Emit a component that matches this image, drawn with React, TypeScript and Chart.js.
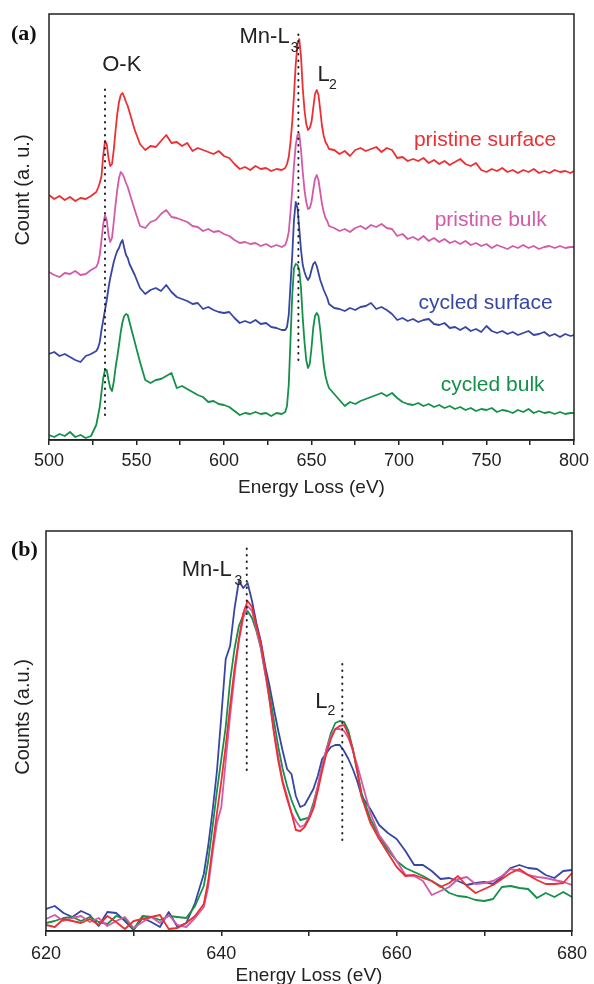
import { useEffect, useRef } from 'react';
import { Chart, registerables } from 'chart.js';

Chart.register(...registerables);

const FONT = '"Liberation Sans", Arial, Helvetica, sans-serif';
const SERIF = '"Liberation Serif", "Times New Roman", serif';

const RED = '#ec2f33';
const MAGENTA = '#d35aa8';
const BLUE = '#3746a2';
const GREEN = '#14904a';

// ---------- Panel (a): EELS spectra 500–800 eV (offset, a.u.) ----------
const ENERGY_A = [
  500, 503, 506, 509, 512, 515, 518, 521, 524, 527,
  528, 529, 530, 531, 532, 533, 534, 535, 536, 537, 538, 539, 540, 541, 542, 543, 544, 545, 546,
  549, 552, 555, 558, 561, 564, 567, 570, 573, 576, 579, 582, 585, 588, 591, 594, 597, 600, 603, 606,
  609, 612, 615, 618, 621, 624, 627, 630, 633,
  635, 636, 637, 638, 639, 640, 641, 642, 643, 644, 645, 646, 647, 648, 649, 650, 651, 652, 653, 654,
  655, 656, 657, 658, 659, 660,
  663, 666, 669, 672, 675, 678, 681, 684, 687, 690, 693, 696, 699, 702, 705, 708, 711, 714, 717, 720,
  723, 726, 729, 732, 735, 738, 741, 744, 747, 750, 753, 756, 759, 762, 765, 768, 771, 774, 777, 780,
  783, 786, 789, 792, 795, 798, 800,
];

const PRISTINE_SURFACE_A = [
  245, 241, 244, 240, 243, 239, 242, 241, 244, 248,
  252, 257, 264, 285, 299, 296, 282, 274, 276, 290, 309, 326, 338, 345, 347, 343, 338, 334, 328,
  310, 296, 290, 294, 293, 299, 305, 297, 298, 294, 297, 289, 292, 290, 288, 286, 289, 284, 282, 276,
  271, 273, 270, 274, 271, 272, 269, 271, 270,
  272, 276, 283, 298, 318, 345, 376, 396, 401, 384, 352, 330, 316, 310, 312, 318, 332, 346, 350, 345,
  330, 314, 304, 298, 295, 291,
  290, 286, 289, 284, 290, 292, 289, 291, 293, 288, 292, 290, 282, 283, 279, 281, 279, 282, 277, 280,
  276, 279, 275, 278, 281, 276, 274, 277, 270, 268, 271, 269, 272, 268, 270, 267, 270, 268, 271, 267,
  269, 267, 270, 268, 269, 267, 269,
];

const PRISTINE_BULK_A = [
  168, 165, 163, 167, 166, 169, 165, 166, 170, 173,
  177, 185, 200, 216, 225, 220, 205, 198, 202, 218, 235, 250, 262, 268, 266, 262, 257, 253, 247,
  230, 214, 212, 218, 220, 226, 230, 223, 222, 220, 218, 214, 213, 209, 211, 208, 209, 206, 204, 200,
  197, 198, 196, 197, 194, 196, 193, 195, 193,
  195, 200, 208, 228, 250, 275, 295, 305, 306, 290, 268, 250, 238, 231, 232, 238, 250, 261, 265, 260,
  248, 236, 228, 222, 219, 214,
  212, 209, 211, 208, 212, 214, 211, 215, 213, 216, 212, 211, 204, 206, 201, 203, 200, 204, 199, 202,
  198, 201, 197, 199, 196, 199, 195, 197, 194, 196, 192, 195, 193, 191, 194, 192, 195, 192, 194, 191,
  193, 194, 192, 194, 192, 193, 193,
];

const CYCLED_SURFACE_A = [
  86, 88, 84, 86, 83, 80, 78, 84, 86, 89,
  92, 98, 110, 120, 130, 140, 152, 162, 170, 178, 184, 189, 192, 197, 200, 192, 185, 182, 176,
  165, 152, 146, 150, 152, 149, 155, 148, 143, 141, 139, 136, 137, 131, 133, 130, 128, 127, 128, 122,
  117, 119, 117, 120, 116, 117, 113, 112, 110,
  110, 113, 125, 155, 185, 220, 238, 232, 212, 190, 175, 168, 163, 160, 163, 170, 176, 178, 174, 167,
  160, 155, 150, 146, 142, 136,
  132, 131, 129, 132, 130, 133, 134, 137, 131, 133, 130, 126, 120, 122, 119, 121, 118, 120, 121, 116,
  115, 117, 112, 113, 110, 113, 109, 111, 108, 114, 109, 107, 109, 106, 108, 105, 107, 109, 105, 106,
  108, 104, 106, 103, 106, 104, 105,
];

const CYCLED_BULK_A = [
  5, 3, 6, 4, 8, 3, 5, 2, 4, 15,
  24, 33, 48, 62, 70, 70, 60, 52, 49, 58, 72, 83, 95, 108, 118, 124, 126, 125, 118,
  98, 78, 60, 57, 60, 61, 64, 67, 52, 54, 51, 48, 45, 43, 38, 39, 36, 35, 33, 29,
  25, 27, 26, 28, 26, 27, 24, 27, 26,
  28, 34, 55, 100, 145, 172, 176, 175, 170, 152, 122, 98, 80, 72, 76, 92, 112, 124, 127, 124,
  110, 92, 75, 64, 57, 52,
  46, 40, 34, 38, 36, 39, 41, 43, 45, 47, 44, 47, 42, 38, 36, 35, 37, 34, 36, 33,
  35, 32, 34, 31, 33, 30, 32, 29, 31, 30, 32, 28, 30, 29, 27, 30, 28, 31, 27, 29,
  27, 28, 26, 28, 26, 27, 27,
];

const X_TICKS_A = [500, 550, 600, 650, 700, 750, 800];

// dotted guide lines: energy, lower and upper value
const GUIDES_A = [
  { energy: 532, from: 25, to: 355 },
  { energy: 642.5, from: 80, to: 407 },
];

const NOTES_A = [
  { text: 'O-K', x: 541.6, y: 375, size: 22, color: '#222', align: 'center' },
  { text: 'Mn-L', x: 637.5, y: 403, size: 22, color: '#222', align: 'right' },
  { text: '3', x: 638.2, y: 392, size: 14, color: '#222', align: 'left' },
  { text: 'L', x: 653.4, y: 365, size: 22, color: '#222', align: 'left' },
  { text: '2', x: 660.0, y: 355, size: 14, color: '#222', align: 'left' },
  { text: 'pristine surface', x: 749.2, y: 300, size: 21, color: RED, align: 'center' },
  { text: 'pristine bulk', x: 752.4, y: 220, size: 21, color: MAGENTA, align: 'center' },
  { text: 'cycled surface', x: 749.5, y: 137, size: 21, color: BLUE, align: 'center' },
  { text: 'cycled bulk', x: 753.5, y: 55, size: 21, color: GREEN, align: 'center' },
];

// ---------- Panel (b): Mn-L edge, 620–680 eV (overlaid, a.u.) ----------
const ENERGY_B = [
  620, 621, 622, 623, 624, 625, 626, 627, 628, 629, 630, 631, 632, 633, 634, 635, 636, 637,
  638, 638.5, 639, 639.5, 640, 640.5, 641, 641.5, 642, 642.5, 643, 643.5, 644, 644.5, 645, 645.5,
  646, 646.5, 647, 647.5, 648, 648.5, 649, 649.5, 650, 650.5, 651, 651.5, 652, 652.5, 653, 653.5,
  654, 654.5, 655, 655.5, 656,
  657, 658, 659, 660, 661, 662, 663, 664, 665, 666, 667, 668, 669, 670, 671, 672, 673, 674, 675,
  676, 677, 678, 679, 680,
];

const CYCLED_SURFACE_B = [
  22, 25, 18, 14, 20, 16, 5, 19, 18, 10, 1, 13, 9, 4, 19, 4, 8, 28,
  57, 85, 120, 160, 215, 272, 285, 322, 350, 343, 348, 330, 308, 290, 265, 245,
  222, 200, 180, 162, 157, 135, 124, 126, 134, 142, 155, 172, 178, 184, 186, 186,
  180, 172, 162, 150, 135,
  122, 106, 98, 92, 80, 66, 66, 60, 52, 53, 50, 46, 48, 49, 47, 54, 63, 66, 63,
  62, 56, 53, 60, 61,
];

const CYCLED_BULK_B = [
  8, 10, 13, 14, 10, 14, 9, 7, 15, 12, 2, 15, 14, 11, 15, 14, 13, 25,
  45, 70, 104, 140, 172, 204, 250, 282, 305, 316, 320, 313, 300, 283, 258, 238,
  210, 184, 162, 145, 131, 120, 111, 112, 114, 128, 144, 165, 182, 198, 208, 210,
  209, 200, 182, 160, 138,
  112, 95, 81, 70, 63, 59, 55, 50, 45, 38, 35, 34, 31, 30, 32, 44, 45, 43, 42,
  33, 38, 34, 39, 34,
];

const PRISTINE_SURFACE_B = [
  6, 4, 12, 10, 8, 12, 6, 15, 9, 2, 10, 12, 14, 16, 2, 3, 8, 15,
  27, 50, 84, 118, 150, 185, 225, 262, 292, 318, 330, 324, 305, 288, 262, 231,
  198, 170, 148, 132, 118, 101, 100, 104, 112, 122, 140, 160, 178, 192, 202, 205,
  206, 196, 182, 160, 134,
  108, 92, 78, 64, 55, 56, 53, 50, 44, 48, 55, 45, 38, 42, 46, 52, 58, 62, 56,
  51, 47, 47, 48, 58,
];

const PRISTINE_BULK_B = [
  12, 16, 10, 13, 15, 9, 13, 5, 10, 14, 3, 9, 14, 8, 16, 6, 4, 13,
  24, 44, 78, 108, 124, 170, 215, 255, 290, 313, 325, 320, 302, 284, 258, 231,
  200, 174, 150, 135, 118, 110, 104, 106, 114, 125, 145, 165, 182, 195, 202, 202,
  200, 193, 180, 166, 150,
  118, 96, 84, 70, 56, 55, 50, 36, 40, 44, 52, 54, 47, 48, 50, 55, 62, 60, 56,
  54, 53, 51, 49, 46,
];

const X_TICKS_B = [620, 640, 660, 680];

const GUIDES_B = [
  { energy: 642.9, from: 161, to: 388 },
  { energy: 653.8, from: 91, to: 271 },
];

const NOTES_B = [
  { text: 'Mn-L', x: 641.2, y: 361, size: 22, color: '#222', align: 'right' },
  { text: '3', x: 641.5, y: 350, size: 14, color: '#222', align: 'left' },
  { text: 'L', x: 650.7, y: 229, size: 22, color: '#222', align: 'left' },
  { text: '2', x: 652.1, y: 220, size: 14, color: '#222', align: 'left' },
];

// ---------- helpers ----------
function series(xs: number[], ys: number[]) {
  return xs.map((x, i) => ({ x, y: ys[i] }));
}

function lineSet(label: string, xs: number[], ys: number[], color: string, width = 1.8) {
  return {
    label,
    data: series(xs, ys),
    borderColor: color,
    backgroundColor: color,
    borderWidth: width,
    borderJoinStyle: 'round',
    pointRadius: 0,
    tension: 0,
    fill: false,
  };
}

function guideSets(guides: { energy: number; from: number; to: number }[]) {
  return guides.map((g, i) => ({
    label: 'guide' + i,
    data: [
      { x: g.energy, y: g.from },
      { x: g.energy, y: g.to },
    ],
    borderColor: '#222',
    borderWidth: 2,
    borderCapStyle: 'round',
    borderDash: [0.5, 6],
    pointRadius: 0,
    fill: false,
  }));
}

function decorPlugin(
  notes: typeof NOTES_A,
  yTitle: { text: string; x: number; y: number },
  panel: { text: string; x: number; y: number }
) {
  return {
    id: 'decor',
    afterDraw(chart: any) {
      const { ctx, chartArea } = chart;
      const xs = chart.scales.x;
      const ys = chart.scales.y;
      ctx.save();
      // frame (top, right, left)
      ctx.strokeStyle = '#222';
      ctx.lineWidth = 1.5;
      ctx.strokeRect(chartArea.left, chartArea.top, chartArea.right - chartArea.left, chartArea.bottom - chartArea.top);
      // notes
      ctx.textBaseline = 'middle';
      notes.forEach((n) => {
        ctx.font = `${n.size}px ${FONT}`;
        ctx.fillStyle = n.color;
        ctx.textAlign = n.align as CanvasTextAlign;
        ctx.fillText(n.text, xs.getPixelForValue(n.x), ys.getPixelForValue(n.y));
      });
      // y title
      ctx.save();
      ctx.translate(yTitle.x, yTitle.y);
      ctx.rotate(-Math.PI / 2);
      ctx.font = `20px ${FONT}`;
      ctx.fillStyle = '#222';
      ctx.textAlign = 'center';
      ctx.textBaseline = 'middle';
      ctx.fillText(yTitle.text, 0, 0);
      ctx.restore();
      // panel label
      ctx.font = `bold 22px ${SERIF}`;
      ctx.fillStyle = '#111';
      ctx.textAlign = 'left';
      ctx.textBaseline = 'middle';
      ctx.fillText(panel.text, panel.x, panel.y);
      ctx.restore();
    },
  };
}

function xScale(min: number, max: number, step: number, labels: number[], height: number, pad: number) {
  return {
    type: 'linear' as const,
    min,
    max,
    afterFit: (s: any) => {
      s.height = height;
    },
    ticks: {
      stepSize: step,
      autoSkip: false,
      maxTicksLimit: 40,
      maxRotation: 0,
      padding: pad,
      color: '#222',
      font: { family: FONT, size: 18 },
      callback: (v: any) => (labels.includes(Number(v)) ? String(v) : ''),
    },
    grid: { drawOnChartArea: false, drawTicks: true, tickLength: 5, color: '#222', lineWidth: 1.5 },
    border: { display: true, color: '#222', width: 1.5 },
    title: {
      display: true,
      text: 'Energy Loss (eV)',
      color: '#222',
      font: { family: FONT, size: 19 },
      padding: { top: 0, bottom: 1 },
    },
  };
}

function baseOptions(padding: any, x: any, yMax: number) {
  return {
    responsive: false,
    animation: false as const,
    events: [] as any[],
    layout: { padding },
    plugins: { legend: { display: false }, tooltip: { enabled: false } },
    scales: {
      x,
      y: { type: 'linear' as const, display: false, min: 0, max: yMax },
    },
  };
}

export default function App() {
  const refA = useRef<HTMLCanvasElement>(null);
  const refB = useRef<HTMLCanvasElement>(null);

  useEffect(() => {
    const chartA = new Chart(refA.current as HTMLCanvasElement, {
      type: 'line',
      data: {
        datasets: [
          ...guideSets(GUIDES_A),
          lineSet('pristine surface', ENERGY_A, PRISTINE_SURFACE_A, RED),
          lineSet('pristine bulk', ENERGY_A, PRISTINE_BULK_A, MAGENTA),
          lineSet('cycled surface', ENERGY_A, CYCLED_SURFACE_A, BLUE),
          lineSet('cycled bulk', ENERGY_A, CYCLED_BULK_A, GREEN),
        ] as any,
      },
      options: baseOptions(
        { left: 49, right: 19, top: 14, bottom: 0 },
        xScale(500, 800, 25, X_TICKS_A, 60, 5),
        426
      ) as any,
      plugins: [
        decorPlugin(NOTES_A, { text: 'Count (a. u.)', x: 23, y: 190 }, { text: '(a)', x: 11, y: 34 }),
      ],
    });

    const chartB = new Chart(refB.current as HTMLCanvasElement, {
      type: 'line',
      data: {
        datasets: [
          ...guideSets(GUIDES_B),
          lineSet('pristine surface', ENERGY_B, PRISTINE_SURFACE_B, RED),
          lineSet('pristine bulk', ENERGY_B, PRISTINE_BULK_B, MAGENTA),
          lineSet('cycled bulk', ENERGY_B, CYCLED_BULK_B, GREEN),
          lineSet('cycled surface', ENERGY_B, CYCLED_SURFACE_B, BLUE),
        ] as any,
      },
      options: baseOptions(
        { left: 46, right: 19, top: 35, bottom: 0 },
        xScale(620, 680, 10, X_TICKS_B, 57, 7),
        400
      ) as any,
      plugins: [
        decorPlugin(NOTES_B, { text: 'Counts (a.u.)', x: 23, y: 221 }, { text: '(b)', x: 11, y: 54 }),
      ],
    });

    return () => {
      chartA.destroy();
      chartB.destroy();
    };
  }, []);

  return (
    <div
      style={{
        position: 'absolute',
        left: 0,
        top: 0,
        width: 594,
        height: 984,
        overflow: 'hidden',
        background: '#fff',
      }}
    >
      <canvas
        ref={refA}
        width={594}
        height={500}
        style={{ position: 'absolute', left: 0, top: 0, width: 594, height: 500 }}
      />
      <canvas
        ref={refB}
        width={594}
        height={492}
        style={{ position: 'absolute', left: 0, top: 496, width: 594, height: 492 }}
      />
    </div>
  );
}
